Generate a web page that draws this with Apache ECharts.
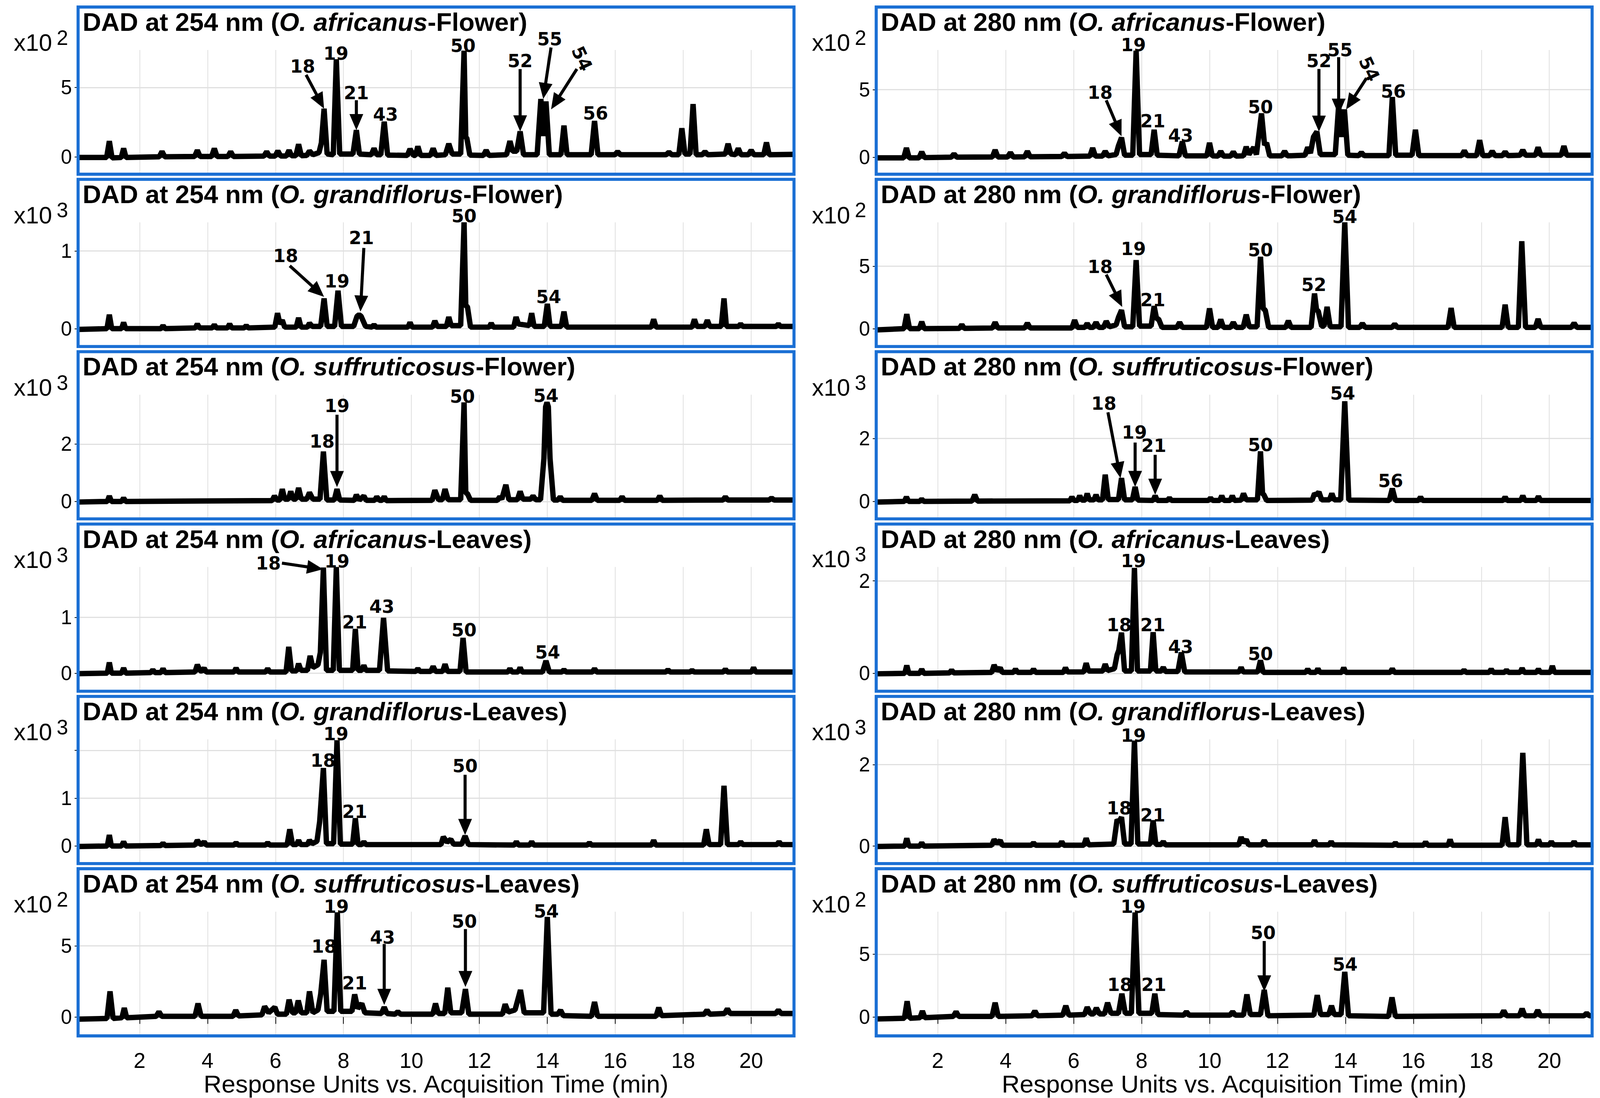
<!DOCTYPE html>
<html><head><meta charset="utf-8">
<script src="https://cdn.jsdelivr.net/npm/echarts@6/dist/echarts.min.js"></script>
<style>html,body{margin:0;padding:0;background:#fff;overflow:hidden}#c{width:100vw;height:100vh}</style>
</head><body><div id="c"></div>
<script>
// ---------------- DATA ----------------
const xTicks = [2, 4, 6, 8, 10, 12, 14, 16, 18, 20];
const xAxisTitle = 'Response Units vs. Acquisition Time (min)';
const wavelengths = ['254', '280'];
const speciesNames = ['O. africanus', 'O. grandiflorus', 'O. suffruticosus', 'O. africanus', 'O. grandiflorus', 'O. suffruticosus'];
const organs = ['Flower', 'Flower', 'Flower', 'Leaves', 'Leaves', 'Leaves'];

// y axis: [min, max], labelled ticks, gridline ticks, exponent of the x10^n multiplier
const yRange254 = [[-1.2, 7.7], [-0.22, 1.37], [-0.58, 3.72], [-0.31, 1.9], [-0.35, 2.23], [-1.27, 7.4]];
const yRange280 = [[-1.2, 7.93], [-1.37, 8.5], [-0.53, 3.39], [-0.37, 2.3], [-0.41, 2.62], [-1.44, 8.39]];
const yLabels254 = [[0, 5], [0, 1], [0, 2], [0, 1], [0, 1], [0, 5]];
const yLabels280 = [[0, 5], [0, 5], [0, 2], [0, 2], [0, 2], [0, 5]];
const yGrid254 = [[0, 5], [0, 1], [0, 2], [0, 1], [0, 1, 2], [0, 5]];
const yGrid280 = [[0, 5], [0, 5], [0, 2], [0, 2], [0, 2], [0, 5]];
const yExp254 = [2, 3, 3, 3, 3, 2];
const yExp280 = [2, 2, 3, 3, 3, 2];

// chromatogram traces [time (min), response]
const trace254_africanusFlower = [[0.19,-0.05],[1.03,-0.05],[1.11,1.13],[1.19,-0.08],[1.46,-0.05],[1.53,0.6],[1.6,-0.05],[2.58,0],[2.66,0.38],[2.74,0],[3.62,0.02],[3.7,0.47],[3.78,0.02],[4.12,0.02],[4.2,0.6],[4.28,0.02],[4.6,0.02],[4.68,0.37],[4.76,0.02],[5.66,0.05],[5.74,0.37],[5.82,0.05],[5.99,0.05],[6.07,0.42],[6.15,0.06],[6.32,0.06],[6.4,0.47],[6.47,0.08],[6.6,0.08],[6.68,0.9],[6.76,0.08],[6.92,0.1],[7.0,0.42],[7.1,0.15],[7.28,0.3],[7.35,1.0],[7.43,3.47],[7.52,0.2],[7.7,0.15],[7.79,7.03],[7.89,0.2],[8.28,0.2],[8.38,1.92],[8.47,0.2],[8.82,0.15],[8.9,0.6],[8.98,0.15],[9.1,0.15],[9.2,2.53],[9.3,0.12],[9.88,0.1],[9.96,0.56],[10.06,0.1],[10.12,0.1],[10.19,0.75],[10.27,0.1],[10.56,0.1],[10.64,0.6],[10.72,0.1],[11.0,0.15],[11.1,0.94],[11.2,0.2],[11.45,0.2],[11.55,7.65],[11.6,1.4],[11.63,1.36],[11.72,0.12],[12.12,0.1],[12.2,0.47],[12.28,0.1],[12.8,0.15],[12.9,1.13],[12.98,0.4],[13.1,0.4],[13.2,1.83],[13.3,0.15],[13.7,0.15],[13.81,4.17],[13.88,1.5],[13.96,3.99],[14.06,0.15],[14.4,0.15],[14.49,2.25],[14.58,0.15],[15.29,0.15],[15.39,2.58],[15.49,0.15],[15.99,0.15],[16.07,0.37],[16.15,0.15],[17.5,0.15],[17.58,0.33],[17.66,0.15],[17.87,0.15],[17.96,2.06],[18.05,0.2],[18.2,0.2],[18.29,3.8],[18.38,0.15],[18.56,0.15],[18.64,0.37],[18.72,0.15],[19.24,0.2],[19.32,0.94],[19.4,0.2],[19.54,0.15],[19.62,0.6],[19.7,0.15],[19.92,0.15],[20.0,0.47],[20.08,0.15],[20.37,0.15],[20.45,1.03],[20.53,0.15],[21.3,0.18]];
const trace254_grandiflorusFlower = [[0.19,-0.01],[1.04,0],[1.11,0.18],[1.18,0],[1.47,0],[1.53,0.08],[1.59,0],[2.63,0],[2.69,0.04],[2.75,0],[3.64,0.01],[3.7,0.06],[3.76,0.01],[4.14,0.01],[4.2,0.05],[4.26,0.01],[4.59,0.01],[4.65,0.06],[4.71,0.01],[5.08,0.01],[5.14,0.04],[5.2,0.01],[5.98,0.02],[6.06,0.2],[6.13,0.06],[6.2,0.11],[6.27,0.02],[6.61,0.02],[6.68,0.14],[6.75,0.02],[6.94,0.02],[7.0,0.07],[7.08,0.03],[7.33,0.03],[7.43,0.39],[7.52,0.03],[7.74,0.03],[7.84,0.49],[7.94,0.03],[8.3,0.03],[8.4,0.16],[8.46,0.18],[8.52,0.16],[8.65,0.03],[8.84,0.02],[8.9,0.05],[8.96,0.02],[9.9,0.02],[9.96,0.08],[10.02,0.02],[10.62,0.02],[10.69,0.1],[10.76,0.03],[11.03,0.03],[11.1,0.15],[11.17,0.04],[11.45,0.04],[11.55,1.37],[11.6,0.3],[11.65,0.28],[11.74,0.02],[12.29,0.02],[12.35,0.07],[12.41,0.02],[13.01,0.02],[13.08,0.15],[13.15,0.06],[13.47,0.04],[13.54,0.2],[13.61,0.03],[13.91,0.03],[14.0,0.32],[14.08,0.03],[14.41,0.03],[14.49,0.22],[14.57,0.02],[17.06,0.02],[17.13,0.12],[17.2,0.02],[18.26,0.02],[18.33,0.12],[18.4,0.03],[18.64,0.03],[18.71,0.11],[18.78,0.03],[19.12,0.03],[19.2,0.39],[19.27,0.03],[19.63,0.03],[19.69,0.06],[19.75,0.03],[20.74,0.03],[20.8,0.06],[20.86,0.03],[21.3,0.03]];
const trace254_suffruticosusFlower = [[0.19,-0.02],[1.05,0],[1.11,0.19],[1.17,0],[1.47,0],[1.53,0.12],[1.59,0],[5.9,0.03],[5.97,0.19],[6.04,0.05],[6.13,0.05],[6.2,0.43],[6.27,0.08],[6.38,0.08],[6.45,0.35],[6.52,0.08],[6.6,0.08],[6.68,0.47],[6.76,0.08],[6.92,0.08],[7.0,0.31],[7.1,0.08],[7.31,0.08],[7.41,1.74],[7.51,0.05],[7.73,0.05],[7.81,0.43],[7.89,0.05],[8.32,0.04],[8.38,0.23],[8.47,0.05],[8.6,0.19],[8.67,0.04],[8.92,0.04],[8.98,0.16],[9.06,0.04],[9.14,0.04],[9.2,0.17],[9.26,0.03],[10.61,0.04],[10.69,0.39],[10.8,0.06],[10.91,0.06],[10.99,0.43],[11.08,0.06],[11.45,0.06],[11.55,3.45],[11.6,0.3],[11.65,0.27],[11.74,0.04],[12.53,0.04],[12.6,0.16],[12.66,0.08],[12.78,0.58],[12.87,0.06],[13.12,0.06],[13.2,0.35],[13.28,0.08],[13.51,0.08],[13.58,0.19],[13.66,0.06],[13.8,0.06],[13.9,1.5],[13.95,3.3],[13.99,3.45],[14.03,3.3],[14.08,1.5],[14.18,0.05],[14.31,0.05],[14.38,0.16],[14.45,0.04],[15.31,0.04],[15.39,0.27],[15.47,0.04],[16.13,0.04],[16.2,0.16],[16.27,0.04],[17.24,0.04],[17.31,0.19],[17.38,0.04],[19.17,0.05],[19.24,0.16],[19.31,0.05],[20.53,0.05],[20.6,0.12],[20.67,0.05],[21.3,0.05]];
const trace254_africanusLeaves = [[0.19,-0.01],[1.05,0],[1.11,0.19],[1.17,0],[1.47,0],[1.53,0.09],[1.59,0],[2.33,0.01],[2.39,0.06],[2.45,0.01],[2.63,0.01],[2.69,0.08],[2.75,0.01],[3.63,0.02],[3.7,0.15],[3.78,0.04],[3.84,0.04],[3.9,0.09],[3.96,0.02],[4.78,0.02],[4.84,0.09],[4.9,0.02],[5.71,0.02],[5.77,0.08],[5.83,0.02],[6.31,0.02],[6.39,0.47],[6.47,0.04],[6.62,0.04],[6.68,0.17],[6.75,0.05],[6.94,0.05],[7.02,0.31],[7.1,0.1],[7.25,0.15],[7.32,0.37],[7.41,1.89],[7.5,0.05],[7.7,0.05],[7.79,1.9],[7.88,0.05],[8.27,0.05],[8.35,0.79],[8.43,0.05],[8.54,0.05],[8.6,0.14],[8.66,0.05],[9.06,0.05],[9.18,0.99],[9.3,0.04],[10.13,0.03],[10.19,0.08],[10.25,0.03],[10.57,0.03],[10.64,0.12],[10.71,0.03],[10.92,0.03],[10.99,0.16],[11.06,0.03],[11.43,0.03],[11.52,0.63],[11.61,0.02],[12.84,0.02],[12.9,0.08],[12.96,0.02],[13.14,0.02],[13.2,0.1],[13.26,0.02],[13.86,0.02],[13.96,0.22],[14.06,0.02],[14.43,0.02],[14.49,0.06],[14.55,0.02],[15.33,0.02],[15.39,0.08],[15.45,0.02],[17.49,0.02],[17.55,0.06],[17.61,0.02],[18.2,0.02],[18.26,0.05],[18.32,0.02],[19.18,0.02],[19.24,0.07],[19.3,0.02],[20.01,0.02],[20.07,0.1],[20.13,0.02],[21.3,0.02]];
const trace254_grandiflorusLeaves = [[0.19,-0.01],[1.05,0],[1.11,0.23],[1.17,0],[1.47,0],[1.53,0.09],[1.59,0],[2.63,0.01],[2.69,0.06],[2.75,0.01],[3.63,0.02],[3.7,0.12],[3.78,0.04],[3.84,0.04],[3.9,0.09],[3.96,0.02],[4.78,0.02],[4.84,0.07],[4.9,0.02],[5.71,0.02],[5.77,0.07],[5.83,0.02],[6.34,0.02],[6.42,0.35],[6.5,0.03],[6.62,0.03],[6.68,0.12],[6.74,0.03],[6.94,0.03],[7.0,0.12],[7.08,0.05],[7.22,0.1],[7.3,0.51],[7.41,1.63],[7.5,0.05],[7.71,0.05],[7.81,2.21],[7.91,0.04],[8.27,0.04],[8.35,0.58],[8.43,0.03],[8.54,0.03],[8.6,0.09],[8.66,0.03],[10.87,0.03],[10.94,0.19],[11.05,0.08],[11.16,0.14],[11.24,0.04],[11.48,0.04],[11.58,0.21],[11.68,0.03],[13.03,0.02],[13.09,0.09],[13.15,0.02],[13.48,0.02],[13.54,0.09],[13.6,0.02],[15.18,0.02],[15.24,0.07],[15.3,0.02],[17.07,0.02],[17.13,0.12],[17.19,0.02],[18.6,0.02],[18.68,0.35],[18.76,0.03],[19.1,0.03],[19.2,1.26],[19.3,0.03],[19.63,0.03],[19.69,0.09],[19.75,0.03],[20.76,0.03],[20.82,0.09],[20.88,0.03],[21.3,0.03]];
const trace254_suffruticosusLeaves = [[0.19,-0.15],[1.04,-0.1],[1.13,1.8],[1.22,-0.1],[1.48,-0.05],[1.55,0.63],[1.62,-0.05],[2.49,0.05],[2.57,0.37],[2.65,0.05],[3.63,0.05],[3.72,0.95],[3.81,0.05],[4.75,0.05],[4.83,0.48],[4.91,0.08],[5.6,0.15],[5.68,0.74],[5.8,0.3],[5.98,0.69],[6.06,0.2],[6.32,0.2],[6.4,1.22],[6.5,0.3],[6.59,0.3],[6.67,1.16],[6.76,0.3],[6.92,0.3],[7.0,1.8],[7.1,0.3],[7.25,0.5],[7.33,1.6],[7.43,4.02],[7.52,0.4],[7.72,0.4],[7.82,7.35],[7.92,0.4],[8.25,0.4],[8.33,1.59],[8.42,0.6],[8.54,0.95],[8.63,0.3],[9.12,0.25],[9.2,0.69],[9.28,0.25],[9.52,0.2],[9.6,0.37],[9.68,0.2],[10.63,0.2],[10.71,0.95],[10.79,0.25],[10.98,0.25],[11.07,2.06],[11.16,0.3],[11.48,0.3],[11.59,1.96],[11.69,0.2],[12.68,0.2],[12.76,0.9],[12.85,0.35],[13.05,0.5],[13.21,1.9],[13.32,0.3],[13.89,0.3],[14.0,7.03],[14.11,0.2],[14.31,0.2],[14.39,0.48],[14.47,0.1],[15.3,0.05],[15.39,1.06],[15.48,0.05],[17.2,0.05],[17.28,0.66],[17.36,0.1],[18.62,0.2],[18.7,0.48],[18.78,0.2],[19.22,0.25],[19.3,0.58],[19.38,0.25],[20.72,0.25],[20.8,0.48],[20.88,0.25],[21.3,0.25]];

const trace280_africanusFlower = [[0.19,-0.05],[1.0,-0.05],[1.08,0.68],[1.16,-0.05],[1.45,-0.05],[1.53,0.39],[1.61,-0.03],[2.4,0],[2.48,0.24],[2.56,0],[3.61,0.02],[3.69,0.53],[3.77,0.02],[4.06,0.02],[4.14,0.34],[4.22,0.02],[4.56,0.03],[4.64,0.44],[4.72,0.03],[5.65,0.05],[5.73,0.29],[5.81,0.05],[6.48,0.08],[6.56,0.68],[6.64,0.08],[6.85,0.08],[6.93,0.44],[7.01,0.1],[7.25,0.2],[7.32,0.85],[7.41,1.45],[7.5,0.15],[7.74,0.15],[7.84,7.88],[7.94,0.2],[8.28,0.2],[8.37,2.03],[8.46,0.15],[9.1,0.1],[9.2,1.16],[9.29,0.1],[9.92,0.1],[10.0,1.06],[10.08,0.1],[10.25,0.08],[10.33,0.44],[10.41,0.08],[10.62,0.08],[10.7,0.39],[10.78,0.08],[11.0,0.1],[11.08,0.77],[11.16,0.2],[11.3,0.73],[11.38,0.2],[11.53,3.24],[11.62,0.9],[11.68,1.06],[11.77,0.1],[12.13,0.1],[12.21,0.44],[12.29,0.1],[12.81,0.15],[12.89,0.73],[12.97,0.3],[13.06,1.5],[13.16,1.89],[13.26,0.2],[13.7,0.2],[13.8,3.82],[13.88,1.5],[13.97,3.53],[14.07,0.15],[14.39,0.12],[14.47,0.34],[14.55,0.12],[15.28,0.12],[15.38,4.45],[15.48,0.15],[15.96,0.15],[16.06,2.03],[16.16,0.12],[17.42,0.12],[17.5,0.48],[17.58,0.12],[17.86,0.12],[17.95,1.26],[18.04,0.12],[18.24,0.12],[18.32,0.44],[18.4,0.12],[18.62,0.12],[18.7,0.39],[18.78,0.12],[19.14,0.15],[19.22,0.53],[19.3,0.15],[19.59,0.15],[19.67,0.73],[19.75,0.15],[20.35,0.15],[20.43,0.82],[20.51,0.15],[21.3,0.15]];
const trace280_grandiflorusFlower = [[0.19,-0.1],[1.01,0],[1.09,1.16],[1.17,0],[1.46,0],[1.53,0.55],[1.6,0],[2.64,0.02],[2.71,0.32],[2.78,0.02],[3.61,0.05],[3.69,0.5],[3.77,0.05],[4.56,0.05],[4.64,0.44],[4.72,0.05],[5.95,0.05],[6.03,0.68],[6.11,0.1],[6.33,0.1],[6.4,0.41],[6.47,0.1],[6.58,0.1],[6.66,0.5],[6.74,0.1],[6.88,0.1],[6.96,0.59],[7.05,0.15],[7.25,0.3],[7.32,0.9],[7.41,1.48],[7.5,0.15],[7.74,0.15],[7.84,5.48],[7.94,0.2],[8.28,0.2],[8.37,1.8],[8.44,0.8],[8.5,0.77],[8.6,0.1],[9.04,0.1],[9.12,0.5],[9.2,0.1],[9.91,0.1],[10.0,1.62],[10.09,0.1],[10.25,0.1],[10.33,0.73],[10.41,0.1],[10.62,0.1],[10.7,0.5],[10.78,0.1],[10.99,0.1],[11.08,1.12],[11.17,0.15],[11.4,0.15],[11.5,5.75],[11.58,1.6],[11.64,1.48],[11.74,0.1],[12.24,0.1],[12.32,0.62],[12.4,0.1],[12.99,0.1],[13.09,2.81],[13.15,1.5],[13.2,1.4],[13.3,0.2],[13.37,0.2],[13.46,1.74],[13.55,0.15],[13.87,0.15],[13.98,8.5],[14.09,0.1],[14.42,0.1],[14.5,0.41],[14.58,0.1],[15.37,0.1],[15.45,0.36],[15.53,0.1],[17.02,0.1],[17.11,1.65],[17.2,0.1],[18.61,0.1],[18.7,1.92],[18.79,0.1],[19.09,0.1],[19.19,6.99],[19.3,0.1],[19.59,0.1],[19.67,0.77],[19.75,0.1],[20.65,0.1],[20.73,0.44],[20.81,0.1],[21.3,0.1]];
const trace280_suffruticosusFlower = [[0.19,-0.02],[1.02,0],[1.08,0.14],[1.14,0],[1.47,0],[1.53,0.07],[1.59,0],[3.01,0.01],[3.09,0.21],[3.17,0.01],[5.89,0.02],[5.95,0.14],[6.01,0.03],[6.12,0.03],[6.18,0.18],[6.24,0.04],[6.34,0.04],[6.4,0.25],[6.46,0.05],[6.6,0.05],[6.66,0.21],[6.72,0.05],[6.85,0.05],[6.93,0.85],[7.02,0.06],[7.32,0.06],[7.41,0.74],[7.5,0.05],[7.73,0.05],[7.81,0.46],[7.89,0.04],[8.34,0.03],[8.4,0.18],[8.46,0.03],[8.76,0.03],[8.82,0.11],[8.88,0.03],[9.97,0.03],[10.03,0.11],[10.09,0.03],[10.3,0.03],[10.36,0.18],[10.42,0.03],[10.61,0.03],[10.67,0.18],[10.73,0.03],[10.93,0.04],[11.0,0.25],[11.08,0.05],[11.41,0.05],[11.5,1.59],[11.56,0.25],[11.6,0.21],[11.68,0.03],[13.02,0.04],[13.09,0.25],[13.15,0.2],[13.22,0.3],[13.3,0.05],[13.53,0.05],[13.6,0.25],[13.67,0.05],[13.86,0.05],[13.98,3.18],[14.1,0.04],[15.29,0.03],[15.38,0.41],[15.47,0.03],[16.15,0.03],[16.21,0.14],[16.27,0.03],[18.64,0.03],[18.7,0.14],[18.76,0.03],[19.16,0.03],[19.22,0.18],[19.28,0.03],[19.62,0.03],[19.68,0.16],[19.74,0.03],[21.3,0.03]];
const trace280_africanusLeaves = [[0.19,-0.01],[1.03,0],[1.09,0.17],[1.15,0],[1.47,0],[1.53,0.09],[1.59,0],[2.35,0.01],[2.41,0.07],[2.47,0.01],[3.59,0.02],[3.66,0.18],[3.75,0.05],[3.84,0.12],[3.9,0.02],[4.23,0.02],[4.29,0.09],[4.35,0.02],[4.76,0.02],[4.82,0.09],[4.88,0.02],[5.7,0.02],[5.76,0.12],[5.82,0.03],[6.3,0.03],[6.37,0.22],[6.44,0.05],[6.86,0.05],[6.93,0.2],[7.0,0.06],[7.2,0.1],[7.28,0.4],[7.33,0.5],[7.41,0.88],[7.5,0.05],[7.7,0.05],[7.79,2.28],[7.88,0.05],[8.26,0.05],[8.34,0.89],[8.42,0.05],[8.58,0.05],[8.64,0.13],[8.7,0.04],[9.07,0.04],[9.17,0.45],[9.27,0.03],[10.87,0.03],[10.93,0.13],[10.99,0.03],[11.42,0.03],[11.5,0.28],[11.58,0.02],[12.83,0.02],[12.89,0.09],[12.95,0.02],[13.13,0.02],[13.19,0.1],[13.25,0.02],[13.89,0.02],[13.95,0.12],[14.01,0.02],[15.32,0.02],[15.38,0.1],[15.44,0.02],[17.43,0.02],[17.49,0.07],[17.55,0.02],[18.23,0.02],[18.29,0.09],[18.35,0.02],[18.68,0.02],[18.74,0.07],[18.8,0.02],[19.14,0.02],[19.2,0.11],[19.26,0.02],[19.62,0.02],[19.68,0.09],[19.74,0.02],[20.03,0.02],[20.09,0.16],[20.15,0.02],[21.3,0.02]];
const trace280_grandiflorusLeaves = [[0.19,-0.01],[1.03,0],[1.09,0.19],[1.15,0],[1.47,0],[1.53,0.08],[1.59,0],[3.59,0.02],[3.66,0.16],[3.75,0.06],[3.84,0.14],[3.9,0.02],[4.76,0.02],[4.82,0.08],[4.88,0.02],[5.59,0.02],[5.65,0.11],[5.71,0.02],[6.3,0.02],[6.37,0.19],[6.44,0.03],[7.18,0.05],[7.28,0.65],[7.34,0.6],[7.41,0.71],[7.5,0.05],[7.69,0.05],[7.79,2.59],[7.89,0.05],[8.26,0.05],[8.34,0.63],[8.42,0.04],[8.58,0.04],[8.64,0.11],[8.7,0.03],[10.86,0.03],[10.93,0.22],[11.0,0.08],[11.08,0.16],[11.15,0.03],[11.54,0.03],[11.61,0.14],[11.68,0.03],[13.03,0.03],[13.09,0.14],[13.15,0.03],[13.52,0.03],[13.58,0.11],[13.64,0.03],[15.41,0.02],[15.47,0.08],[15.53,0.02],[16.3,0.02],[16.36,0.1],[16.42,0.02],[17.02,0.02],[17.08,0.16],[17.14,0.02],[18.61,0.02],[18.7,0.71],[18.79,0.03],[19.1,0.03],[19.22,2.29],[19.34,0.03],[19.62,0.03],[19.68,0.16],[19.74,0.03],[20.0,0.03],[20.06,0.11],[20.12,0.03],[20.67,0.03],[20.73,0.11],[20.79,0.03],[21.3,0.03]];
const trace280_suffruticosusLeaves = [[0.19,-0.15],[1.02,-0.1],[1.1,1.26],[1.18,-0.1],[1.48,-0.05],[1.55,0.48],[1.62,-0.05],[2.46,0.05],[2.54,0.42],[2.62,0.05],[3.6,0.05],[3.69,1.14],[3.78,0.05],[4.78,0.1],[4.86,0.48],[4.94,0.1],[5.68,0.15],[5.77,0.9],[5.86,0.15],[6.32,0.2],[6.4,0.78],[6.5,0.25],[6.59,0.25],[6.67,0.72],[6.76,0.25],[6.91,0.25],[7.0,1.14],[7.1,0.3],[7.32,0.3],[7.42,1.86],[7.52,0.3],[7.7,0.3],[7.81,8.33],[7.92,0.3],[8.3,0.3],[8.39,1.86],[8.48,0.2],[9.24,0.15],[9.32,0.42],[9.4,0.15],[10.6,0.15],[10.68,0.42],[10.76,0.15],[11.0,0.15],[11.1,1.8],[11.2,0.2],[11.5,0.2],[11.61,2.16],[11.72,0.1],[13.07,0.15],[13.17,1.74],[13.27,0.2],[13.51,0.2],[13.59,0.9],[13.67,0.2],[13.87,0.2],[13.98,3.6],[14.09,0.1],[15.27,0.05],[15.37,1.56],[15.47,0.05],[18.58,0.1],[18.66,0.5],[18.74,0.1],[19.12,0.1],[19.2,0.66],[19.28,0.1],[19.58,0.1],[19.66,0.54],[19.74,0.1],[21.02,0.1],[21.1,0.3],[21.18,0.1],[21.3,0.1]];

// peak labels [text, time, response, rotation] and arrows [fromTime, fromResp, toTime, toResp]
const labels254_africanusFlower = [['18',6.8,6.52],['19',7.78,7.46],['21',8.38,4.6],['43',9.24,3.05],['50',11.52,8.0],['52',13.2,6.9],['55',14.07,8.5],['54',15.02,7.08,-65],['56',15.42,3.14]];
const arrows254_africanusFlower = [[6.9,5.91,7.43,3.47],[8.38,4.08,8.38,1.92],[13.2,6.33,13.2,1.83],[14.11,7.88,13.88,4.17],[14.87,6.33,14.11,3.42]];
const labels254_grandiflorusFlower = [['18',6.3,0.94],['19',7.81,0.61],['21',8.53,1.17],['50',11.55,1.45],['54',14.04,0.41]];
const arrows254_grandiflorusFlower = [[6.42,0.81,7.43,0.41],[8.6,1.04,8.5,0.22]];
const labels254_suffruticosusFlower = [['18',7.37,2.09],['19',7.81,3.33],['50',11.5,3.66],['54',13.96,3.68]];
const arrows254_suffruticosusFlower = [[7.81,3.02,7.81,0.5]];
const labels254_africanusLeaves = [['18',5.79,1.97],['19',7.81,2.0],['21',8.33,0.91],['43',9.13,1.19],['50',11.55,0.77],['54',14.01,0.37]];
const arrows254_africanusLeaves = [[6.19,1.97,7.4,1.86]];
const labels254_grandiflorusLeaves = [['18',7.4,1.79],['19',7.78,2.34],['21',8.33,0.72],['50',11.58,1.67]];
const arrows254_grandiflorusLeaves = [[11.58,1.49,11.58,0.23]];
const labels254_suffruticosusLeaves = [['19',7.79,7.75],['18',7.43,4.97],['21',8.33,2.38],['43',9.15,5.6],['50',11.56,6.71],['54',13.97,7.42]];
const arrows254_suffruticosusLeaves = [[9.2,5.13,9.2,0.85],[11.59,6.18,11.59,2.11]];

const labels280_africanusFlower = [['18',6.78,4.79],['19',7.76,8.3],['21',8.33,2.66],['43',9.15,1.6],['50',11.5,3.72],['52',13.22,7.11],['55',13.84,7.93],['54',14.7,6.53,-65],['56',15.41,4.88]];
const arrows280_africanusFlower = [[6.96,4.21,7.41,1.55],[13.22,6.53,13.22,1.89],[13.8,7.4,13.8,3.14],[14.62,5.85,14.02,3.53]];
const labels280_grandiflorusFlower = [['18',6.78,4.95],['19',7.76,6.37],['21',8.33,2.28],['50',11.5,6.28],['52',13.07,3.52],['54',13.98,8.95]];
const arrows280_grandiflorusFlower = [[6.96,4.32,7.43,1.74]];
const labels280_suffruticosusFlower = [['18',6.89,3.11],['19',7.79,2.19],['21',8.36,1.77],['50',11.5,1.8],['54',13.92,3.43],['56',15.33,0.65]];
const arrows280_suffruticosusFlower = [[7.01,2.83,7.38,0.74],[7.81,1.87,7.81,0.46],[8.4,1.48,8.4,0.21]];
const labels280_africanusLeaves = [['18',7.34,1.05],['19',7.76,2.43],['21',8.33,1.05],['43',9.15,0.57],['50',11.5,0.42]];
const arrows280_africanusLeaves = [];
const labels280_grandiflorusLeaves = [['18',7.34,0.93],['19',7.76,2.71],['21',8.33,0.76]];
const arrows280_grandiflorusLeaves = [];
const labels280_suffruticosusLeaves = [['19',7.75,8.8],['18',7.36,2.58],['21',8.36,2.58],['50',11.58,6.71],['54',13.99,4.2]];
const arrows280_suffruticosusLeaves = [[11.61,6.06,11.61,2.04]];

// ---------------- BUILD ----------------
const traces = [
  [trace254_africanusFlower, trace254_grandiflorusFlower, trace254_suffruticosusFlower, trace254_africanusLeaves, trace254_grandiflorusLeaves, trace254_suffruticosusLeaves],
  [trace280_africanusFlower, trace280_grandiflorusFlower, trace280_suffruticosusFlower, trace280_africanusLeaves, trace280_grandiflorusLeaves, trace280_suffruticosusLeaves]
];
const labelSets = [
  [labels254_africanusFlower, labels254_grandiflorusFlower, labels254_suffruticosusFlower, labels254_africanusLeaves, labels254_grandiflorusLeaves, labels254_suffruticosusLeaves],
  [labels280_africanusFlower, labels280_grandiflorusFlower, labels280_suffruticosusFlower, labels280_africanusLeaves, labels280_grandiflorusLeaves, labels280_suffruticosusLeaves]
];
const arrowSets = [
  [arrows254_africanusFlower, arrows254_grandiflorusFlower, arrows254_suffruticosusFlower, arrows254_africanusLeaves, arrows254_grandiflorusLeaves, arrows254_suffruticosusLeaves],
  [arrows280_africanusFlower, arrows280_grandiflorusFlower, arrows280_suffruticosusFlower, arrows280_africanusLeaves, arrows280_grandiflorusLeaves, arrows280_suffruticosusLeaves]
];
const yRanges = [yRange254, yRange280];
const yLabelSets = [yLabels254, yLabels280];
const yGridSets = [yGrid254, yGrid280];
const yExps = [yExp254, yExp280];

// layout is designed for 4262 x 2811 and scaled to the actual viewport
const el = document.getElementById('c');
const W = window.innerWidth || 4262, H = window.innerHeight || 2811;
el.style.width = W + 'px'; el.style.height = H + 'px';
const SX = W / 4262, SY = H / 2811, SF = Math.sqrt(SX * SY);
const X = v => v * SX, Y = v => v * SY, F = v => v * SF;

const FONT = '"Liberation Sans", Arial, sans-serif';
const LABEL_FONT = '"DejaVu Sans", "Liberation Sans", sans-serif';
const BLUE = '#1a6fd4';
const GRIDC = '#e0e0e0';
const BOX_LEFT = [208, 2334], BOX_W = 1907, BOX_TOP0 = 18, BOX_STEP = 441.2, BOX_H = 428;
const PLOT_OFF = 110, PLOT_H = 316;

function arrowItem(params, api) {
  const a = api.coord([api.value(0), api.value(1)]);
  const b = api.coord([api.value(2), api.value(3)]);
  const dx = b[0] - a[0], dy = b[1] - a[1];
  const L = Math.hypot(dx, dy) || 1, ux = dx / L, uy = dy / L;
  const HL = F(42), HW = F(18);
  const c = [b[0] - ux * HL, b[1] - uy * HL];
  return {
    type: 'group',
    children: [
      { type: 'line', shape: { x1: a[0], y1: a[1], x2: c[0] + ux * 3, y2: c[1] + uy * 3 }, style: { stroke: '#000', lineWidth: F(8) } },
      { type: 'polygon', shape: { points: [b, [c[0] - uy * HW, c[1] + ux * HW], [c[0] + uy * HW, c[1] - ux * HW]] }, style: { fill: '#000' } }
    ]
  };
}

const option = { animation: false, backgroundColor: '#fff', title: [], grid: [], xAxis: [], yAxis: [], series: [], graphic: [] };
let idx = 0;
for (let col = 0; col < 2; col++) {
  for (let row = 0; row < 6; row++) {
    const i = idx++;
    const bl = BOX_LEFT[col];
    const bt = BOX_TOP0 + BOX_STEP * row;
    const bottom = row === 5;
    option.graphic.push({ type: 'rect', silent: true, z: 100, shape: { x: X(bl), y: Y(bt), width: X(BOX_W), height: Y(BOX_H) }, style: { fill: 'none', stroke: BLUE, lineWidth: F(8) } });
    option.title.push({
      left: X(bl + 12), top: Y(bt + 9), padding: 0,
      text: '{n|DAD at ' + wavelengths[col] + ' nm (}{i|' + speciesNames[row] + '}{n|-' + organs[row] + ')}',
      textStyle: { rich: {
        n: { fontFamily: FONT, fontSize: F(67), lineHeight: F(60), fontWeight: 'bold', color: '#000' },
        i: { fontFamily: FONT, fontSize: F(67), lineHeight: F(60), fontWeight: 'bold', fontStyle: 'italic', color: '#000' }
      } }
    });
    option.grid.push({ left: X(bl), top: Y(bt + PLOT_OFF), width: X(BOX_W), height: Y(PLOT_H) });
    option.xAxis.push({
      gridIndex: i, type: 'value', min: 0.19, max: 21.26,
      axisLine: { show: false },
      axisTick: { show: bottom, customValues: xTicks, length: F(18), lineStyle: { color: '#000', width: F(2) } },
      axisLabel: { show: bottom, customValues: xTicks, margin: F(38), fontSize: F(56), color: '#000', fontFamily: FONT },
      splitLine: { show: true, lineStyle: { color: GRIDC, width: F(2) } },
      name: bottom ? xAxisTitle : '', nameLocation: 'middle', nameGap: F(84),
      nameTextStyle: { fontSize: F(65), color: '#000', fontFamily: FONT }
    });
    option.yAxis.push({
      gridIndex: i, type: 'value', min: yRanges[col][row][0], max: yRanges[col][row][1],
      axisLine: { show: true, lineStyle: { color: '#000', width: F(2) } },
      axisTick: { show: true, customValues: yGridSets[col][row], length: F(9), lineStyle: { color: '#000', width: F(2) } },
      axisLabel: { customValues: yLabelSets[col][row], margin: F(16), fontSize: F(52), color: '#000', fontFamily: FONT },
      splitLine: { show: true, lineStyle: { color: GRIDC, width: F(3) } },
      name: '{a|x10}{b|' + yExps[col][row] + '}', nameLocation: 'end', nameGap: F(19),
      nameTextStyle: { align: 'right', verticalAlign: 'middle', padding: [0, F(26), 0, 0],
        rich: { a: { fontFamily: FONT, fontSize: F(62), color: '#000' },
                b: { fontFamily: FONT, fontSize: F(54), color: '#000', padding: [0, 0, F(26), F(12)] } } }
    });
    option.series.push({
      type: 'line', xAxisIndex: i, yAxisIndex: i, data: traces[col][row],
      showSymbol: false, symbol: 'none', clip: false, silent: true, z: 3,
      lineStyle: { color: '#000', width: F(14) }
    });
    option.series.push({
      type: 'custom', xAxisIndex: i, yAxisIndex: i, data: arrowSets[col][row],
      renderItem: arrowItem, silent: true, z: 5, clip: false
    });
    option.series.push({
      type: 'scatter', xAxisIndex: i, yAxisIndex: i, silent: true, z: 6, clip: false,
      symbolSize: 1, itemStyle: { color: 'rgba(0,0,0,0)' },
      label: { show: true, position: 'inside', formatter: '{b}', fontSize: F(47), lineHeight: F(36), fontWeight: 'bold', color: '#000', textBorderWidth: 0, opacity: 1, fontFamily: LABEL_FONT },
      data: labelSets[col][row].map(l => {
        const d = { name: l[0], value: [l[1], l[2]] };
        if (l[3]) d.label = { rotate: l[3] };
        return d;
      })
    });
  }
}

const chart = echarts.init(el, null, { renderer: 'svg', width: W, height: H });
chart.setOption(option);
</script>
</body></html>
